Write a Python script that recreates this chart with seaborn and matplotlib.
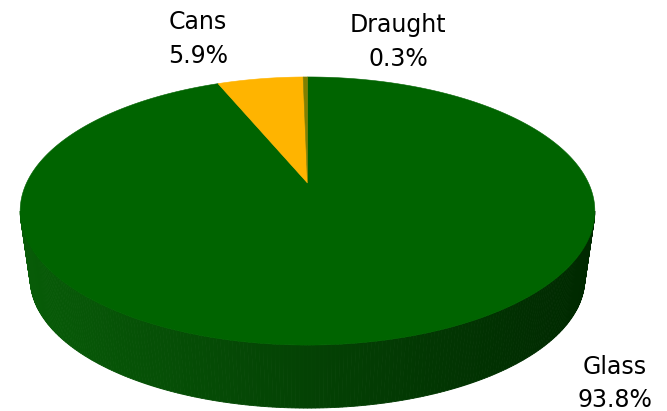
import numpy as np
import matplotlib
matplotlib.use("Agg")
import matplotlib.pyplot as plt
import seaborn as sns

sns.set_theme(style="white")
plt.rcParams['font.family'] = ['DejaVu Sans']

categories = ['Glass', 'Cans', 'Draught']
values = [93.8, 5.9, 0.3]
pct_labels = ['93.8%', '5.9%', '0.3%']
slice_colors = ['#006400', '#FFB400', '#808000']
side_left = {'Glass': (0.03, 0.36, 0.03), 'Cans': (0.85, 0.6, 0.0), 'Draught': (0.45, 0.45, 0.0)}
side_right = {'Glass': (0.0, 0.16, 0.0), 'Cans': (0.55, 0.38, 0.0), 'Draught': (0.3, 0.3, 0.0)}

fig = plt.figure(figsize=(6.67, 4.11), dpi=100)
ax = fig.add_axes([0, 0, 1, 1])
ax.set_xlim(0, 667)
ax.set_ylim(411, 0)
ax.axis('off')

# perspective ellipse parameters (pixel space)
cx, cy = 307.5, 183.0
a, b, k = 281.0, 128.2, 0.209
s_bot = 0.965          # bottom face appears slightly smaller
cy_bot = 251.7


def proj(theta_deg):
    t = np.radians(theta_deg)
    u, v = np.cos(t), np.sin(t)
    w = 1 + k * v
    return cx + a * u / w, cy - b * v / w


def proj_bot(theta_deg):
    t = np.radians(theta_deg)
    u, v = np.cos(t), np.sin(t)
    w = 1 + k * v
    return cx + s_bot * a * u / w, cy_bot - s_bot * b * v / w


fr = np.array(values) / np.sum(values)
starts = 90 - 360 * np.concatenate([[0], np.cumsum(fr)[:-1]])
ends = starts - 360 * fr


def slice_at(theta):
    for i in range(len(values)):
        s, e = starts[i], ends[i]
        d = (s - theta) % 360
        if d <= (s - e):
            return i
    return 0


# side wall (front half)
tl = 180 + np.degrees(np.arcsin(k))
tr = 360 - np.degrees(np.arcsin(k))
xl, _ = proj(tl)
xr, _ = proj(tr)
N = 240
th = np.linspace(tl, tr, N + 1)
for i in range(N):
    t0, t1 = th[i], th[i + 1]
    x0, y0 = proj(t0)
    x1, y1 = proj(t1)
    bx0, by0 = proj_bot(t0)
    bx1, by1 = proj_bot(t1)
    idx = slice_at((t0 + t1) / 2)
    name = categories[idx]
    f = ((x0 + x1) / 2 - xl) / (xr - xl)
    cl, cr = np.array(side_left[name]), np.array(side_right[name])
    col = cl + (cr - cl) * f
    ax.fill([x0, x1, bx1, bx0], [y0, y1, by1, by0],
            color=col, linewidth=0.6, edgecolor=col)

# top face
for i in range(len(values)):
    tt = np.linspace(starts[i], ends[i], max(4, int(abs(starts[i] - ends[i]) * 3)))
    xs, ys = proj(tt)
    ax.fill(np.concatenate([[cx], xs]), np.concatenate([[cy], ys]),
            color=slice_colors[i], linewidth=0.4, edgecolor=slice_colors[i])

# labels
fs = 17
lab = {
    'Cans': (198, 29, 63),
    'Draught': (398, 32, 66),
    'Glass': (615, 374, 407),
}
for i, name in enumerate(categories):
    x, y1, y2 = lab[name]
    ax.text(x, y1, name, ha='center', va='baseline', fontsize=fs, color='black')
    ax.text(x, y2, pct_labels[i], ha='center', va='baseline', fontsize=fs, color='black')

fig.savefig('out.png', dpi=100, facecolor='white')
